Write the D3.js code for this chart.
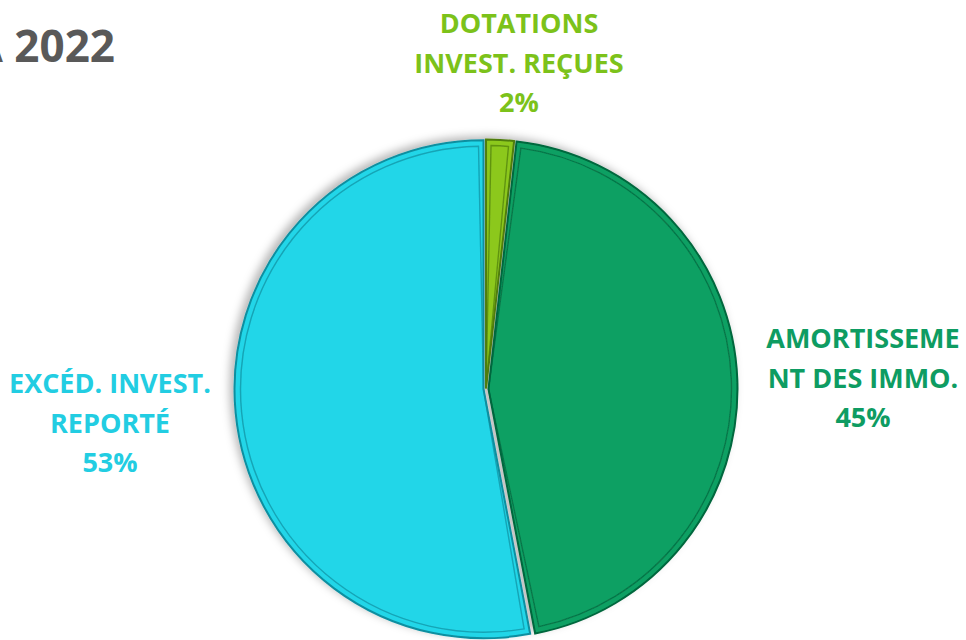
<!DOCTYPE html>
<html>
<head>
<meta charset="utf-8">
<script src="https://cdn.jsdelivr.net/npm/d3@7"></script>
<style>
  html, body { margin: 0; padding: 0; background: #fff; overflow: hidden; }
  svg { display: block; }
</style>
</head>
<body>
<div id="chart"></div>
<script>
// Répartition recettes d'investissement 2022
const labels = [['DOTATIONS', 'INVEST. REÇUES'], ['AMORTISSEME', 'NT DES IMMO.'], ['EXCÉD. INVEST.', 'REPORTÉ']];
const values = [1.8, 45.2, 53.0];
const pctLabels = ['2%', '45%', '53%'];
const fills = ['#8cc81e', '#0aa064', '#22d6e8'];
const edges = ['#4f7d0c', '#05673e', '#0f8fa0'];
const textColors = ['#7cc21a', '#0e9c62', '#22cde2'];

const W = 966, H = 640;
const cx = 486, cy = 389, R = 249;

const svg = d3.select('#chart').append('svg').attr('width', W).attr('height', H);

const defs = svg.append('defs');
const sh = defs.append('filter').attr('id', 'shadow')
  .attr('x', '-20%').attr('y', '-20%').attr('width', '140%').attr('height', '140%');
sh.append('feDropShadow').attr('dx', -4).attr('dy', -3).attr('stdDeviation', 4)
  .attr('flood-color', '#000').attr('flood-opacity', 0.28);

// titre (coupé à gauche comme l'original)
svg.append('text')
  .attr('x', 115).attr('y', 62)
  .attr('text-anchor', 'end')
  .attr('font-family', 'Open Sans, sans-serif').attr('font-weight', 700)
  .attr('font-size', 44).attr('fill', '#595959')
  .text('CA 2022');

const pie = d3.pie().sort(null).value(d => d);
const arcs = pie(values);
const arc = d3.arc().innerRadius(0).outerRadius(R);
const inner = d3.arc().innerRadius(0).outerRadius(R - 6).padAngle(10 / R).padRadius(R);

const g = svg.append('g').attr('transform', `translate(${cx},${cy})`);
const pieG = g.append('g').attr('filter', 'url(#shadow)');

const sl = pieG.selectAll('g.slice').data(arcs).join('g')
  .attr('class', 'slice')
  .attr('transform', (d, i) => {
    const a = (d.startAngle + d.endAngle) / 2;
    const off = i === 0 ? 0.5 : 2.5;
    return `translate(${Math.sin(a) * off},${-Math.cos(a) * off})`;
  });

sl.append('path')
  .attr('d', arc)
  .attr('fill', (d, i) => fills[i])
  .attr('stroke', (d, i) => edges[i]).attr('stroke-width', 2);

sl.append('path')
  .attr('d', inner)
  .attr('fill', 'none')
  .attr('stroke', (d, i) => edges[i]).attr('stroke-width', 1.4).attr('stroke-opacity', 0.7);

// étiquettes
const labelPos = [[519, 33], [863, 348], [110, 393]];
const lineH = 39.5;

const lab = svg.append('g').selectAll('text').data(arcs).join('text')
  .attr('text-anchor', 'middle')
  .attr('font-family', 'Open Sans, sans-serif').attr('font-weight', 700)
  .attr('font-size', 27)
  .attr('fill', (d, i) => textColors[i]);

lab.each(function (d, i) {
  const t = d3.select(this);
  const lines = labels[i].concat([pctLabels[i]]);
  lines.forEach((s, k) => {
    t.append('tspan')
      .attr('x', labelPos[i][0])
      .attr('y', labelPos[i][1] + k * lineH)
      .text(s);
  });
});
</script>
</body>
</html>
